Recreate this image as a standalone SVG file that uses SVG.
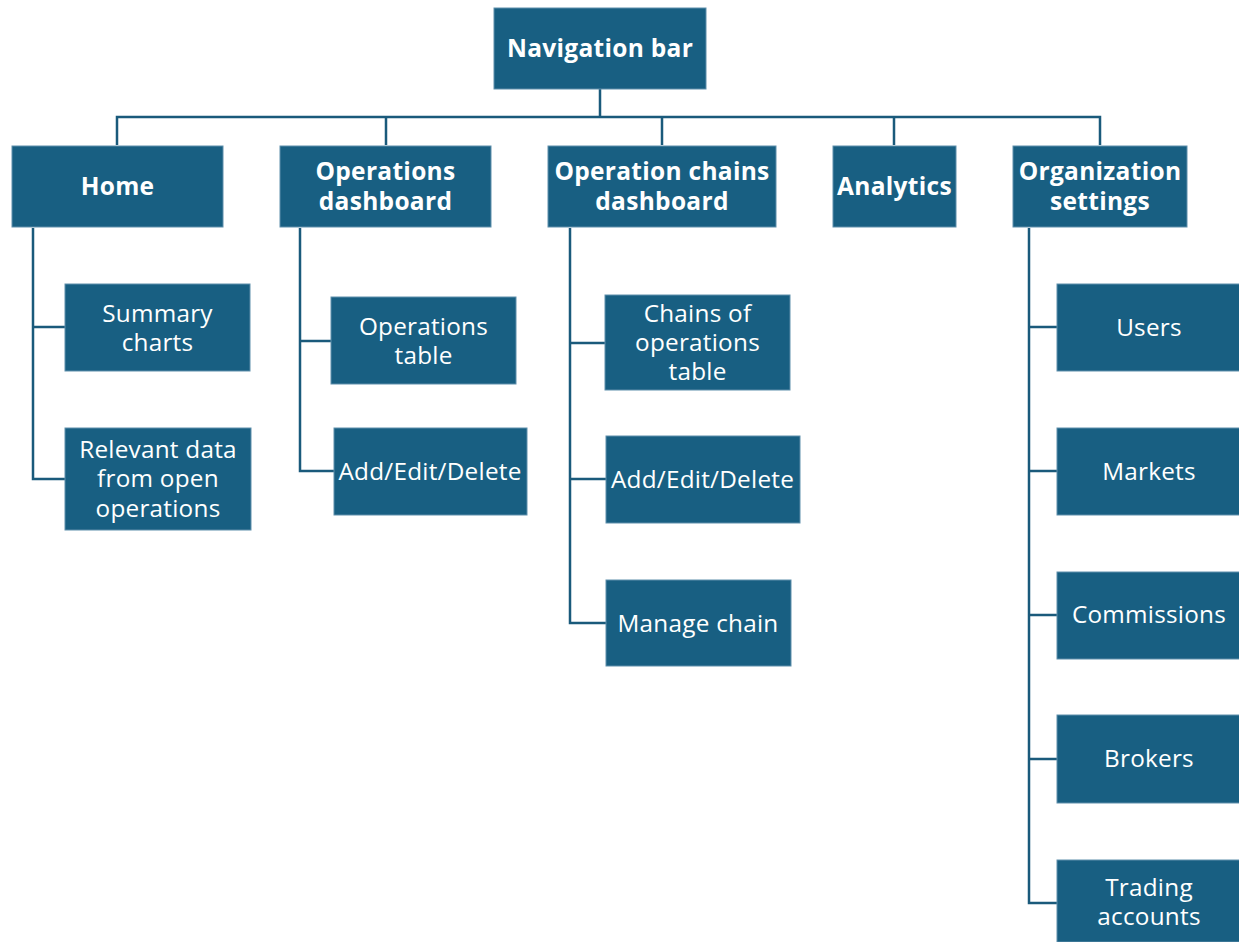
<svg xmlns="http://www.w3.org/2000/svg" width="1239" height="942" viewBox="0 0 1239 942">
<style>
.box{fill:#185f82;stroke:#5f8fab;stroke-width:1}
.h{font-family:"Open Sans","Liberation Sans",sans-serif;font-weight:bold;font-size:24.5px;letter-spacing:0.3px;fill:#fff;text-anchor:middle}
.t{font-family:"Open Sans","Liberation Sans",sans-serif;font-size:24.3px;letter-spacing:0.25px;fill:#fff;text-anchor:middle}
.c{fill:none;stroke:#1a5a7b;stroke-width:2.5}
</style>
<rect width="1239" height="942" fill="#fff"/>
<g id="connectors" class="c">
<path d="M600 89V117M117 145V117H1100V145M386 117V145M662 117V145M894 117V145"/>
<path d="M33 228V479H65M33 327H65"/>
<path d="M300 228V471H334M300 341H331"/>
<path d="M570 228V623H606M570 343H605M570 479H606"/>
<path d="M1029 228V903H1057M1029 327H1057M1029 471H1057M1029 615H1057M1029 759H1057"/>
</g>
<g id="nav"><rect class="box" x="494" y="8" width="212" height="81"/><text class="h" x="600" y="56.5">Navigation bar</text></g>
<g id="home"><rect class="box" x="12" y="146" width="211" height="81"/><text class="h" x="117.5" y="194.5">Home</text></g>
<g id="opsdash"><rect class="box" x="280" y="146" width="211" height="81"/><text class="h" x="385.5" y="179.5">Operations</text><text class="h" x="385.5" y="209.5">dashboard</text></g>
<g id="chaindash"><rect class="box" x="548" y="146" width="228" height="81"/><text class="h" x="662" y="179.5">Operation chains</text><text class="h" x="662" y="209.5">dashboard</text></g>
<g id="analytics"><rect class="box" x="833" y="146" width="123" height="81"/><text class="h" x="894.5" y="194.5">Analytics</text></g>
<g id="orgsettings"><rect class="box" x="1013" y="146" width="174" height="81"/><text class="h" x="1100" y="179.5">Organization</text><text class="h" x="1100" y="209.5">settings</text></g>
<g id="summary"><rect class="box" x="65" y="284" width="185" height="87"/><text class="t" x="157.5" y="321.5">Summary</text><text class="t" x="157.5" y="350.5">charts</text></g>
<g id="relevant"><rect class="box" x="65" y="428" width="186" height="102"/><text class="t" x="158" y="457.5">Relevant data</text><text class="t" x="158" y="487">from open</text><text class="t" x="158" y="516.5">operations</text></g>
<g id="opstable"><rect class="box" x="331" y="297" width="185" height="87"/><text class="t" x="423.5" y="334.5">Operations</text><text class="t" x="423.5" y="363.5">table</text></g>
<g id="opsaed"><rect class="box" x="334" y="428" width="193" height="87"/><text class="t" x="430" y="479.5">Add/Edit/Delete</text></g>
<g id="chaintable"><rect class="box" x="605" y="295" width="185" height="95"/><text class="t" x="697.5" y="321.5">Chains of</text><text class="t" x="697.5" y="350.5">operations</text><text class="t" x="697.5" y="379.5">table</text></g>
<g id="chainaed"><rect class="box" x="606" y="436" width="194" height="87"/><text class="t" x="702.5" y="487.5">Add/Edit/Delete</text></g>
<g id="managechain"><rect class="box" x="606" y="580" width="185" height="86"/><text class="t" x="698" y="631.5">Manage chain</text></g>
<g id="users"><rect class="box" x="1057" y="284" width="184" height="87"/><text class="t" x="1149" y="335.5">Users</text></g>
<g id="markets"><rect class="box" x="1057" y="428" width="184" height="87"/><text class="t" x="1149" y="479.5">Markets</text></g>
<g id="commissions"><rect class="box" x="1057" y="572" width="184" height="87"/><text class="t" x="1149" y="622.5">Commissions</text></g>
<g id="brokers"><rect class="box" x="1057" y="715" width="184" height="88"/><text class="t" x="1149" y="766.5">Brokers</text></g>
<g id="trading"><rect class="box" x="1057" y="860" width="184" height="82"/><text class="t" x="1149" y="895.5">Trading</text><text class="t" x="1149" y="924.5">accounts</text></g>
</svg>
